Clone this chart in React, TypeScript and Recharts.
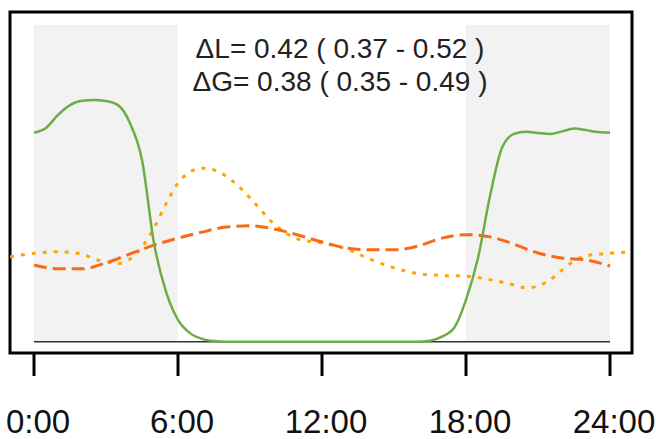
import { LineChart, Line, XAxis, YAxis, ReferenceArea, ReferenceLine } from "recharts"

// hours of the day
const greenHours = [0, 0.5, 1, 1.5, 2, 2.5, 3, 3.5, 4, 4.5, 5, 5.5, 6, 6.5, 7, 7.5, 8, 10, 12, 14, 16, 16.5, 17, 17.5, 18, 18.5, 19, 19.5, 20, 20.5, 21, 21.5, 22, 22.5, 23, 23.5, 24]
const greenValues = [0.66, 0.675, 0.716, 0.747, 0.761, 0.763, 0.76, 0.747, 0.69, 0.574, 0.311, 0.158, 0.069, 0.027, 0.009, 0.002, 0, 0, 0, 0, 0, 0.003, 0.016, 0.043, 0.132, 0.264, 0.46, 0.612, 0.656, 0.663, 0.659, 0.656, 0.664, 0.673, 0.668, 0.662, 0.66]

const dashHours = [0, 1, 2, 3, 4, 5, 6, 7, 8, 9, 10, 11, 12, 13, 14, 15, 16, 17, 18, 19, 20, 21, 22, 23, 24]
const dashValues = [0.242, 0.23, 0.23, 0.249, 0.277, 0.305, 0.327, 0.346, 0.362, 0.366, 0.356, 0.337, 0.315, 0.296, 0.29, 0.29, 0.302, 0.327, 0.338, 0.331, 0.308, 0.28, 0.264, 0.258, 0.239]

const dotHours = [-1, 0, 1, 2, 2.5, 3, 3.5, 4, 4.5, 5, 5.5, 6, 6.5, 7, 7.5, 8, 8.5, 9, 10, 11, 12, 13, 14, 15, 16, 17, 18, 19, 20, 20.5, 21, 21.5, 22, 22.5, 23, 24, 24.9]
const dotValues = [0.268, 0.279, 0.284, 0.277, 0.261, 0.252, 0.247, 0.261, 0.299, 0.359, 0.435, 0.501, 0.536, 0.548, 0.542, 0.523, 0.492, 0.454, 0.372, 0.324, 0.312, 0.293, 0.261, 0.233, 0.215, 0.209, 0.207, 0.196, 0.179, 0.17, 0.176, 0.195, 0.226, 0.255, 0.271, 0.279, 0.284]

const xTicks = [0, 6, 12, 18, 24]
const tickLabels = ["0:00", "6:00", "12:00", "18:00", "24:00"]
const nightBands = [[0, 6], [18, 24]]
const annotation = ["ΔL= 0.42 ( 0.37 - 0.52 )", "ΔG= 0.38 ( 0.35 - 0.49 )"]

const xDomain = [-1, 24.917]
const yDomain = [-0.0357, 1.041]

const toRows = (hours: number[], values: number[]) => hours.map((h, i) => ({ h, v: values[i] }))

const font = "'Liberation Sans', Arial, sans-serif"

export default function App() {
  return (
    <div style={{ position: "fixed", top: 0, left: 0, width: 656, height: 439, background: "#fff", fontFamily: font }}>
      <LineChart width={656} height={439} margin={{ top: 12, right: 24, left: 10, bottom: 0 }}>
        <XAxis
          type="number"
          dataKey="h"
          domain={xDomain}
          ticks={xTicks}
          tickFormatter={(v: number) => tickLabels[xTicks.indexOf(v)]}
          axisLine={false}
          tickLine={{ stroke: "#000", strokeWidth: 3 }}
          tickSize={23}
          tickMargin={34}
          height={86}
          tick={{ fontSize: 33, fill: "#111", fontFamily: font, dx: 4 }}
          allowDataOverflow
        />
        <YAxis type="number" domain={yDomain} hide allowDataOverflow />
        {nightBands.map(([a, b]) => (
          <ReferenceArea key={a} x1={a} x2={b} y1={0} y2={1} fill="#f2f2f2" fillOpacity={1} stroke="none" />
        ))}
        <ReferenceLine segment={[{ x: 0, y: 0 }, { x: 24, y: 0 }]} stroke="#333" strokeWidth={1.5} />
        <Line data={toRows(dotHours, dotValues)} dataKey="v" type="monotone" stroke="#ffa500" strokeWidth={3} strokeDasharray="4 7" dot={false} isAnimationActive={false} />
        <Line data={toRows(dashHours, dashValues)} dataKey="v" type="monotone" stroke="#fa6a16" strokeWidth={3} strokeDasharray="13 6" dot={false} isAnimationActive={false} />
        <Line data={toRows(greenHours, greenValues)} dataKey="v" type="monotone" stroke="#6cae45" strokeWidth={2.5} dot={false} isAnimationActive={false} />
        <ReferenceArea
          x1={xDomain[0]}
          x2={xDomain[1]}
          y1={yDomain[0]}
          y2={yDomain[1]}
          ifOverflow="visible"
          fill="none"
          fillOpacity={0}
          stroke="#000"
          strokeWidth={3}
        />
      </LineChart>
      {annotation.map((t, i) => (
        <div
          key={t}
          style={{ position: "absolute", left: 140, width: 400, top: 34 + i * 33, textAlign: "center", fontSize: 28, lineHeight: "30px", color: "#222" }}
        >
          {t}
        </div>
      ))}
    </div>
  )
}
